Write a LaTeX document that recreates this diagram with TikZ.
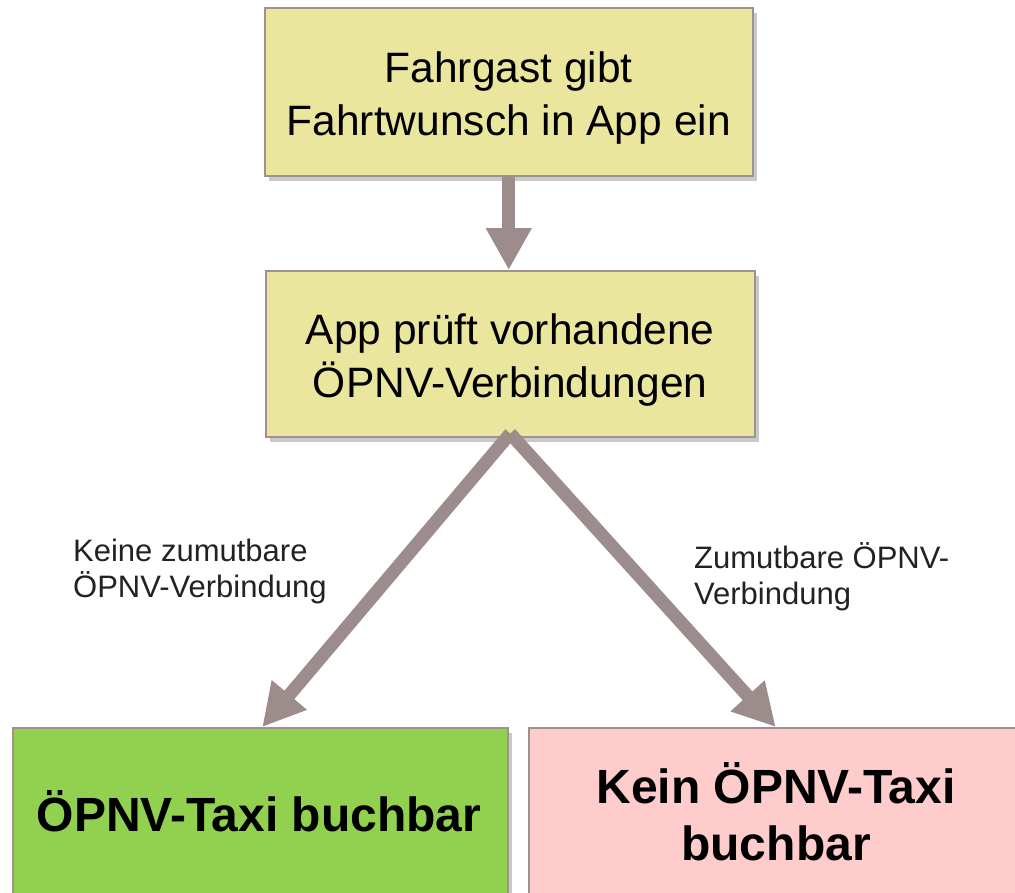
\documentclass[tikz,border=0pt]{standalone}
\usepackage{fontspec}
\setmainfont{Liberation Sans}
\usetikzlibrary{arrows.meta,shadows}
\definecolor{boxyellow}{RGB}{235,230,158}
\definecolor{boxedge}{RGB}{160,145,145}
\definecolor{flowgray}{RGB}{156,140,140}
\definecolor{okgreen}{RGB}{146,208,80}
\definecolor{nopink}{RGB}{255,204,204}
\definecolor{labeltext}{RGB}{34,34,34}
\newcommand{\toppad}{\rule{0pt}{43pt}}
\tikzset{
  x=1pt, y=-1pt,
  boxbase/.style={draw=boxedge, line width=1.5pt, anchor=north west, align=center,
    inner sep=0pt,
    drop shadow={shadow xshift=4pt, shadow yshift=-5pt, opacity=0.35, fill=black!60}},
  stepbox/.style={boxbase, fill=boxyellow, font=\fontsize{42.5}{53}\selectfont},
  resultbox/.style={boxbase},
  resulttext/.style={font=\bfseries\fontsize{48}{57}\selectfont, align=center},
  flow/.style={draw=flowgray, line width=13pt,
    -{Triangle[width=43pt,length=42pt]}, fill=flowgray},
  branchlabel/.style={anchor=west, align=left, text=labeltext,
    font=\fontsize{31}{36}\selectfont, inner sep=0pt}
}
\begin{document}
\begin{tikzpicture}
\useasboundingbox (0,0) rectangle (1015,892);
\clip (0,0) rectangle (1015,892);
\fill[white] (0,0) rectangle (1015,892);

% process steps
\node[stepbox, minimum width=488pt, minimum height=168pt] (wish) at (264,7)
  {\toppad Fahrgast gibt\\Fahrtwunsch in App ein};
\node[stepbox, minimum width=489pt, minimum height=166pt] (check) at (265,270)
  {\toppad App prüft vorhandene\\ÖPNV-Verbindungen};

% outcomes
\node[resultbox, fill=okgreen, minimum width=495pt, minimum height=200pt] (yes) at (12,727) {};
\node[resulttext] (yestext) at (259,811) {ÖPNV-Taxi buchbar};
\node[resultbox, fill=nopink, minimum width=494pt, minimum height=200pt] (no) at (528,727) {};
\node[resulttext] (notext) at (776,812) {Kein ÖPNV-Taxi\\buchbar};

% connectors
\coordinate (fork) at ([yshift=4pt]check.south);
\draw[flow] (wish.south) -- (wish.south |- check.north);
\draw[flow] (fork) -- ([xshift=2pt]yes.north);
\draw[flow] (fork) -- (no.north);

% branch conditions
\node[branchlabel] (nolabel) at (73,571) {Keine zumutbare\\ÖPNV-Verbindung};
\node[branchlabel] (yeslabel) at (694,577) {Zumutbare ÖPNV-\\Verbindung};
\end{tikzpicture}
\end{document}
